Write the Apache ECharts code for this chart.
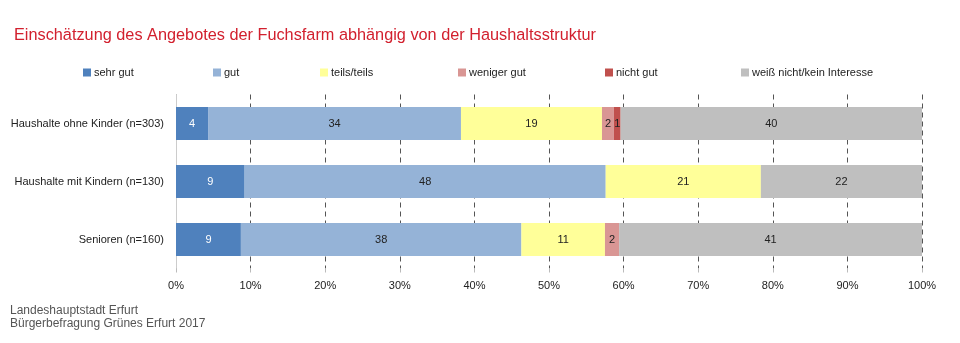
<!DOCTYPE html>
<html><head><meta charset="utf-8">
<script src="https://cdn.jsdelivr.net/npm/echarts@6/dist/echarts.min.js"></script>
<style>html,body{margin:0;padding:0;background:#fff}#c{width:960px;height:343px}</style>
</head><body><div id="c"></div>
<script>
const categories = ['Haushalte ohne Kinder (n=303)', 'Haushalte mit Kindern (n=130)', 'Senioren (n=160)'];
const seriesNames = ['sehr gut', 'gut', 'teils/teils', 'weniger gut', 'nicht gut', 'weiß nicht/kein Interesse'];
const sehrGut = [4.3, 9.2, 8.7];
const gut = [33.9, 48.4, 37.6];
const teils = [18.9, 20.8, 11.2];
const wenigerGut = [1.6, 0, 1.9];
const nichtGut = [0.9, 0, 0];
const weissNicht = [40.4, 21.6, 40.6];
const xTicks = ['0%','10%','20%','30%','40%','50%','60%','70%','80%','90%','100%'];

const colors = ['#4f81bd', '#95b3d7', '#ffff99', '#d99694', '#c0504d', '#bfbfbf'];
const labelColors = ['#ffffff', '#222', '#222', '#222', '#222', '#222'];
const values = [sehrGut, gut, teils, wenigerGut, nichtGut, weissNicht];
const FONT = '"Liberation Sans", sans-serif';
const legendX = [78, 208, 315, 453, 600, 736];

const chart = echarts.init(document.getElementById('c'), null, {renderer: 'canvas'});
chart.setOption({
  animation: false,
  textStyle: {fontFamily: FONT},
  title: {
    text: 'Einschätzung des Angebotes der Fuchsfarm abhängig von der Haushaltsstruktur',
    left: 9, top: 23,
    textStyle: {color: '#d2202e', fontSize: 16.3, fontWeight: 'normal', fontFamily: FONT}
  },
  legend: seriesNames.map((n, i) => ({
    data: [n], left: legendX[i], top: 62,
    itemWidth: 8, itemHeight: 8, itemGap: 0, icon: 'rect',
    textStyle: {fontSize: 11, color: '#222', fontFamily: FONT, padding: [0,0,0,-2]},
    selectedMode: false
  })),
  graphic: [
    {type: 'text', left: 10, top: 305, style: {text: 'Landeshauptstadt Erfurt', fill: '#555', font: '12px "Liberation Sans", sans-serif'}},
    {type: 'text', left: 10, top: 318, style: {text: 'Bürgerbefragung Grünes Erfurt 2017', fill: '#555', font: '12px "Liberation Sans", sans-serif'}}
  ],
  grid: {left: 176, right: 38, top: 94.5, height: 174, containLabel: false, outerBoundsMode: 'none'},
  xAxis: {
    type: 'value', min: 0, max: 100, interval: 10,
    axisLine: {show: false},
    axisTick: {show: true, length: 4, lineStyle: {color: '#bbb'}},
    splitLine: {show: true, lineStyle: {type: [5, 4], color: '#555', width: 1}},
    axisLabel: {formatter: v => xTicks[v / 10], color: '#222', fontSize: 11, margin: 12, fontFamily: FONT}
  },
  yAxis: {
    type: 'category', data: categories, inverse: true,
    axisLine: {show: true, lineStyle: {color: '#ccc'}},
    axisTick: {show: false},
    axisLabel: {color: '#222', fontSize: 11, margin: 12, fontFamily: FONT}
  },
  series: seriesNames.map((n, i) => ({
    name: n, type: 'bar', stack: 'all', barWidth: 33,
    data: values[i],
    itemStyle: {color: colors[i]},
    label: {
      show: true, position: 'inside', color: labelColors[i], fontSize: 11, fontFamily: FONT,
      formatter: p => p.value > 0 ? Math.round(p.value) : ''
    }
  }))
});
</script></body></html>
